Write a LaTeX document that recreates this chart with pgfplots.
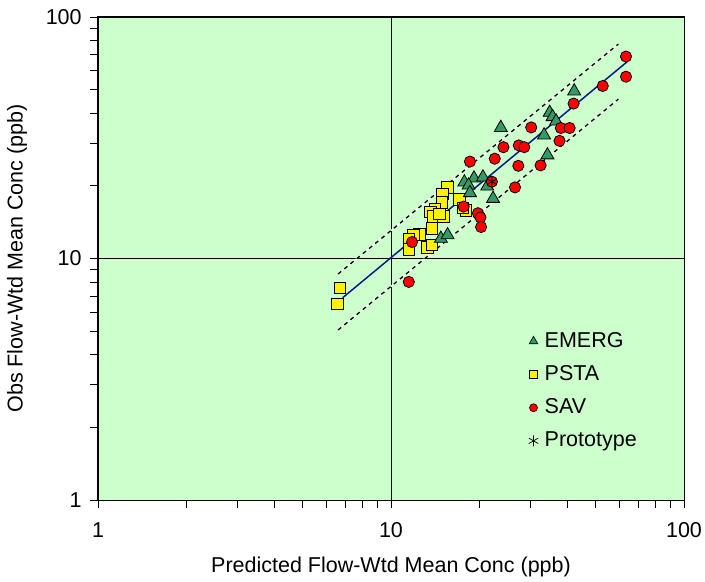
\documentclass[border=0pt]{standalone}
\usepackage{fontspec}
\setmainfont{Liberation Sans}
\usepackage{pgfplots}
\pgfplotsset{compat=1.18}
\definecolor{bg}{HTML}{CCFFCC}
\definecolor{emerg}{HTML}{339966}
\definecolor{navyline}{HTML}{0A1A8C}
\begin{document}
\fontsize{21.5bp}{25bp}\selectfont
\begin{tikzpicture}
\begin{loglogaxis}[
  name=ax,
  scale only axis, width=586bp, height=483bp,
  xmin=1, xmax=100, ymin=1, ymax=100,
  axis background/.style={fill=bg},
  axis line style={black, line width=1bp},
  xtick={1,10,100}, ytick={1,10,100},
  xticklabels={1,10,100}, yticklabels={1,10,100},
  xtick pos=bottom, ytick pos=left,
  tick align=outside,
  major tick length=8bp, minor tick length=8bp,
  every tick/.style={black, line width=0.8bp},
  grid=major, major grid style={black, line width=0.9bp},
  every tick label/.append style={font=\fontsize{21.5bp}{25bp}\selectfont},
  xticklabel style={anchor=north, yshift=-7bp},
  yticklabel style={anchor=east, xshift=-1bp},
  every axis x label/.style={at={(axis description cs:0.5,-0.1387)}, anchor=center, font=\fontsize{21.5bp}{25bp}\selectfont},
  every axis y label/.style={at={(axis description cs:-0.1382,0.5)}, rotate=90, anchor=center, font=\fontsize{21.5bp}{25bp}\selectfont},
  xlabel={Predicted Flow-Wtd Mean Conc (ppb)},
  ylabel={Obs Flow-Wtd Mean Conc (ppb)},
  legend style={at={(0.734,0.352)}, anchor=north west, draw=none, fill=none,
    font=\fontsize{21.5bp}{25bp}\selectfont, row sep=11bp, inner sep=0pt},
  legend cell align=left,
  legend image code/.code={\path (-5bp,0bp) (9bp,0bp); \draw[#1] plot coordinates {(0bp,0bp)};},
  clip=false,
]
% prediction interval (dashed, white gaps)
\addplot[white, line width=1.3bp, forget plot] coordinates {(6.6,8.63) (59.7,77.3)};
\addplot[black, line width=1.3bp, dash pattern=on 4bp off 4bp, forget plot] coordinates {(6.6,8.63) (59.7,77.3)};
\addplot[white, line width=1.3bp, forget plot] coordinates {(6.6,5.06) (59.7,45.7)};
\addplot[black, line width=1.3bp, dash pattern=on 4bp off 4bp, forget plot] coordinates {(6.6,5.06) (59.7,45.7)};
% regression line
\addplot[navyline, line width=1.5bp, forget plot] coordinates {(6.84,6.88) (64,65.3)};

% PSTA
\addplot[only marks, mark=square*, mark size=5.8bp, mark options={fill=yellow, draw=black, line width=0.8bp}, forget plot] coordinates {
(15.6,19.7) (15.0,18.5) (14.9,17.1) (17.1,17.6) (18.0,15.8) (17.6,16.2)
(14.1,16.0) (13.6,15.6) (13.9,14.9) (15.1,14.9) (14.6,15.3) (13.8,13.3)
(12.5,12.6) (11.9,12.5) (11.5,12.0) (11.5,10.9) (13.3,11.1) (13.8,11.4)
(6.70,7.57) (6.56,6.48)
};
% EMERG
\addplot[only marks, mark=triangle*, mark size=7.5bp, mark options={fill=emerg, draw=black, line width=0.8bp}, forget plot] coordinates {
(17.8,20.7) (19.2,21.5) (20.6,21.7) (18.4,20.1) (18.6,18.7) (21.3,19.9)
(22.3,17.7) (14.8,12.1) (15.6,12.5) (23.7,34.8) (33.3,32.4) (34.2,26.8)
(34.8,40.2) (35.6,38.6) (36.6,37.0) (42.2,49.3)
};
% SAV
\addplot[only marks, mark=*, mark size=5.6bp, mark options={fill=red, draw=black, line width=0.8bp}, forget plot] coordinates {
(63.4,68.6) (63.4,56.6) (52.8,51.8) (42.0,43.8) (38.0,34.7) (40.7,34.7)
(37.6,30.7) (32.4,24.3) (30.1,34.9) (24.2,28.9) (27.3,29.4) (28.5,28.9)
(18.6,25.2) (22.6,25.9) (27.2,24.2) (22.1,20.8) (26.5,19.7) (17.7,16.4)
(19.8,15.4) (20.2,14.8) (20.3,13.5) (11.8,11.7) (11.5,8.0)
};
% Prototype
\addplot[only marks, mark=asterisk, mark size=5.5bp, mark options={draw=black, line width=0.8bp}, forget plot] coordinates {(22.1,20.8)};

\addlegendimage{only marks, mark=triangle*, mark size=5bp, mark options={fill=emerg, draw=black, line width=0.6bp}}
\addlegendentry{EMERG}
\addlegendimage{only marks, mark=square*, mark size=4bp, mark options={fill=yellow, draw=black, line width=0.6bp}}
\addlegendentry{PSTA}
\addlegendimage{only marks, mark=*, mark size=4bp, mark options={fill=red, draw=black, line width=0.6bp}}
\addlegendentry{SAV}
\addlegendimage{only marks, mark=asterisk, mark size=5.5bp, mark options={draw=black, line width=0.7bp}}
\addlegendentry{Prototype}
\end{loglogaxis}
\pgfresetboundingbox
\path[use as bounding box] ([xshift=-98bp,yshift=-82bp]ax.south west) rectangle ([xshift=21bp,yshift=17bp]ax.north east);
\end{tikzpicture}
\end{document}
